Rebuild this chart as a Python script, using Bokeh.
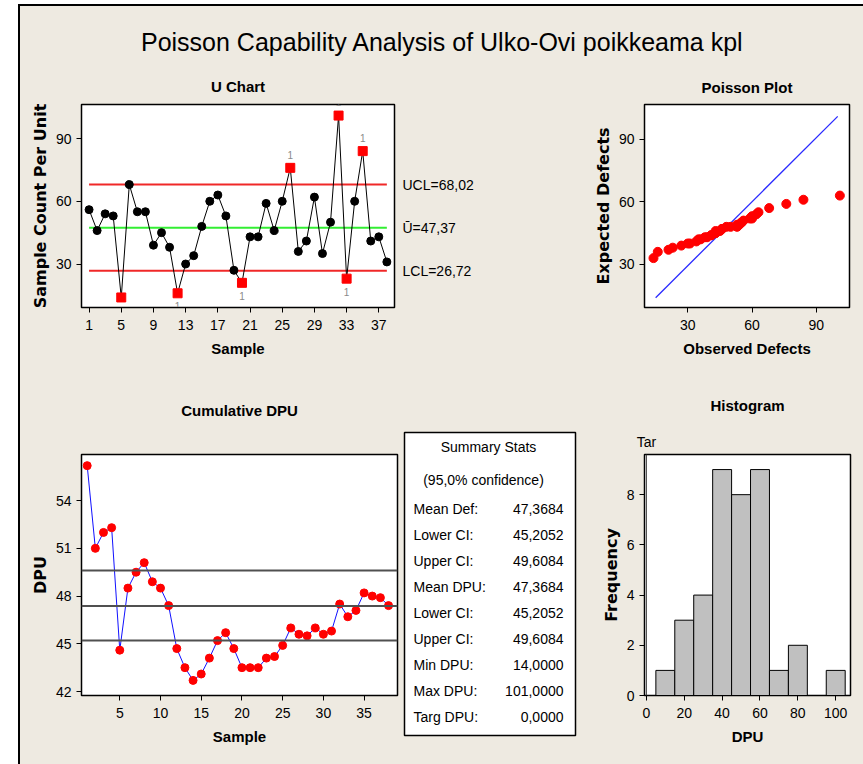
from bokeh.plotting import figure
from bokeh.layouts import row, column
from bokeh.models import Range1d, FixedTicker, Span, Label, Div, Spacer, LinearAxis
from bokeh.embed import file_html
from bokeh.resources import INLINE
from bokeh.core.properties import value

# ---------------- data ----------------
main_title = "Poisson Capability Analysis of Ulko-Ovi poikkeama kpl"

samples = list(range(1, 39))
u_values = [56, 46, 54, 53, 14, 68, 55, 55, 39, 45, 38, 16, 30, 34, 48, 60, 63, 53, 27, 21,
            43, 43, 59, 46, 60, 76, 36, 41, 62, 35, 50, 101, 23, 60, 84, 41, 43, 31]
ucl_value = 68.02
center_value = 47.37
lcl_value = 26.72
control_labels = ["UCL=68,02", "\u016a=47,37", "LCL=26,72"]
u_xticks = [1, 5, 9, 13, 17, 21, 25, 29, 33, 37]
u_yticks = [30, 60, 90]

cum_dpu = [56.2, 51.0, 52.0, 52.3, 44.6, 48.5, 49.5, 50.1, 48.9, 48.5, 47.4, 44.7, 43.5,
           42.7, 43.1, 44.1, 45.2, 45.7, 44.7, 43.5, 43.5, 43.5, 44.1, 44.2, 44.9, 46.0,
           45.6, 45.5, 46.0, 45.6, 45.8, 47.5, 46.7, 47.1, 48.2, 48.0, 47.9, 47.4]
ci_lower = 45.2052
mean_dpu = 47.3684
ci_upper = 49.6084
cum_xticks = [5, 10, 15, 20, 25, 30, 35]
cum_yticks = [42, 45, 48, 51, 54]

poisson_observed = sorted(u_values)
poisson_expected = [33, 36, 37, 38, 39, 40, 40, 41, 42, 42, 43, 43, 44, 44, 45, 45, 46, 46, 47,
                    47, 48, 48, 48, 49, 49, 50, 50, 51, 52, 52, 53, 53, 54, 55, 57, 59, 61, 63]
ref_line_x = [15, 100]
ref_line_y = [14, 101]
pois_ticks = [30, 60, 90]

hist_centers = [10, 20, 30, 40, 50, 60, 70, 80, 90, 100]
hist_counts = [1, 3, 4, 9, 8, 9, 1, 2, 0, 1]
target_dpu = 0
target_label = "Tar"
hist_xticks = [0, 20, 40, 60, 80, 100]
hist_yticks = [0, 2, 4, 6, 8]

stats_title = "Summary Stats"
stats_subtitle = "(95,0% confidence)"
stats_labels = ["Mean Def:", "Lower CI:", "Upper CI:", "Mean DPU:", "Lower CI:",
                "Upper CI:", "Min DPU:", "Max DPU:", "Targ DPU:"]
stats_values = ["47,3684", "45,2052", "49,6084", "47,3684", "45,2052", "49,6084",
                "14,0000", "101,0000", "0,0000"]

# ---------------- style ----------------
BG = "#EEEAE1"
FONT = "Liberation Sans"
VFONT = "DejaVu Sans"


def base_fig(**kw):
    p = figure(output_backend="svg", toolbar_location=None, title=None,
               background_fill_color="white", border_fill_color=BG,
               outline_line_color="black", outline_line_width=1.5, **kw)
    p.xgrid.visible = False
    p.ygrid.visible = False
    return p


def style(p, xticks, yticks, xlabel, ylabel):
    for ax in (p.xaxis, p.yaxis):
        ax.major_tick_out = 5
        ax.major_tick_in = 0
        ax.minor_tick_out = 0
        ax.minor_tick_in = 0
        ax.axis_line_color = "black"
        ax.major_tick_line_color = "black"
        ax.major_label_text_font = FONT
        ax.major_label_text_font_size = "14px"
        ax.major_label_text_color = "black"
        ax.axis_label_text_color = "black"
        ax.axis_label_text_font_style = "bold"
    p.xaxis.major_label_standoff = 7
    p.yaxis.major_label_standoff = 5
    p.xaxis.ticker = FixedTicker(ticks=xticks)
    p.yaxis.ticker = FixedTicker(ticks=yticks)
    p.xaxis.axis_label = xlabel
    p.yaxis.axis_label = ylabel
    p.xaxis.axis_label_text_font = FONT
    p.xaxis.axis_label_text_font_size = "15px"
    p.xaxis.axis_label_standoff = 7
    p.yaxis.axis_label_text_font = VFONT
    p.yaxis.axis_label_text_font_size = "16px"
    p.yaxis.axis_label_standoff = 3


def top_title(p, text, standoff, ticks=None, overrides=None):
    ax = LinearAxis(ticker=FixedTicker(ticks=ticks or []),
                    major_label_overrides=overrides or {},
                    axis_label=text, axis_line_color=None,
                    major_tick_line_color=None, minor_tick_line_color=None,
                    major_tick_out=0, major_tick_in=0, minor_tick_out=0, minor_tick_in=0,
                    major_label_standoff=5, major_label_text_font=FONT,
                    major_label_text_font_size="14px", major_label_text_color="black",
                    axis_label_standoff=standoff, axis_label_text_font=FONT,
                    axis_label_text_font_size="15px", axis_label_text_font_style="bold",
                    axis_label_text_color="black")
    p.add_layout(ax, "above")


# ---- title strip ----
tf = figure(width=843, height=64, x_range=Range1d(0, 843), y_range=Range1d(64, 0),
            min_border_left=0, min_border_right=0, min_border_top=0, min_border_bottom=0,
            x_axis_location=None, y_axis_location=None, output_backend="svg",
            toolbar_location=None, background_fill_color=BG, border_fill_color=BG,
            outline_line_color=None, title=None)
tf.xgrid.visible = False
tf.ygrid.visible = False
tf.add_layout(Label(x=422, y=35, text=main_title, text_align="center",
                    text_baseline="alphabetic", text_font=FONT, text_font_size="25px",
                    text_color="black"))

# ---- U chart ----
u = base_fig(width=540, height=305, x_range=Range1d(0.06, 38.95), y_range=Range1d(9.2, 106.3),
             min_border_left=61, min_border_right=166, min_border_top=34, min_border_bottom=68)
style(u, u_xticks, u_yticks, "Sample", "Sample Count Per Unit")
top_title(u, "U Chart", 10)
ends = [samples[0], samples[-1]]
u.line(ends, [ucl_value, ucl_value], line_color="#F02828", line_width=2)
u.line(ends, [lcl_value, lcl_value], line_color="#F02828", line_width=2)
u.line(ends, [center_value, center_value], line_color="#33EE33", line_width=2)
u.line(samples, u_values, line_color="black", line_width=1)
in_x = [s for s, v in zip(samples, u_values) if lcl_value <= v <= ucl_value]
in_y = [v for v in u_values if lcl_value <= v <= ucl_value]
out_x = [s for s, v in zip(samples, u_values) if not (lcl_value <= v <= ucl_value)]
out_y = [v for v in u_values if not (lcl_value <= v <= ucl_value)]
u.scatter(in_x, in_y, marker="circle", size=8, fill_color="black", line_color="black")
u.scatter(out_x, out_y, marker="square", size=9, fill_color="#FF0000", line_color="#FF0000")
flag_y = [v + 6.3 if v > ucl_value else v - 6.3 for v in out_y]
u.text(x=out_x, y=flag_y, text=["1"] * len(out_x), text_font=value(FONT),
       text_font_size="10px", text_color="#8a8a8a", text_align="center",
       text_baseline="middle")
ctrl_axis = LinearAxis(ticker=FixedTicker(ticks=[ucl_value, center_value, lcl_value]),
                       major_label_overrides={ucl_value: control_labels[0],
                                              center_value: control_labels[1],
                                              lcl_value: control_labels[2]},
                       axis_line_color=None, major_tick_line_color=None,
                       minor_tick_line_color=None, major_tick_out=0, major_tick_in=0,
                       minor_tick_out=0, minor_tick_in=0, major_label_standoff=8,
                       major_label_text_font=FONT, major_label_text_font_size="14px",
                       major_label_text_color="black")
u.add_layout(ctrl_axis, "right")

# ---- Poisson plot ----
pp = base_fig(width=303, height=305, x_range=Range1d(9.8, 105.5), y_range=Range1d(9.3, 106.7),
              min_border_left=84, min_border_right=14, min_border_top=33, min_border_bottom=68)
style(pp, pois_ticks, pois_ticks, "Observed Defects", "Expected Defects")
top_title(pp, "Poisson Plot", 9)
pp.line(ref_line_x, ref_line_y, line_color="#2A2AFF", line_width=1.3)
pp.scatter(poisson_observed, poisson_expected, marker="circle", size=9,
           fill_color="#FF0000", line_color="#FF0000")

# ---- Cumulative DPU ----
cd = base_fig(width=380, height=389, x_range=Range1d(0.3, 39.1), y_range=Range1d(41.75, 56.9),
              min_border_left=61, min_border_right=3, min_border_top=79, min_border_bottom=69)
style(cd, cum_xticks, cum_yticks, "Sample", "DPU")
top_title(cd, "Cumulative DPU", 36)
for lv in (ci_upper, mean_dpu, ci_lower):
    cd.add_layout(Span(location=lv, dimension="width", line_color="#505050", line_width=2))
cd.line(samples, cum_dpu, line_color="#1010FF", line_width=1)
cd.scatter(samples, cum_dpu, marker="circle", size=8, fill_color="#FF0000", line_color="#FF0000")

# ---- Summary stats box ----
st = figure(width=190, height=389, x_range=Range1d(0, 171), y_range=Range1d(303, 0),
            min_border_left=4, min_border_right=15, min_border_top=57, min_border_bottom=29,
            x_axis_location=None, y_axis_location=None, output_backend="svg",
            toolbar_location=None, background_fill_color="white", border_fill_color=BG,
            outline_line_color="black", outline_line_width=1.5, title=None)
st.xgrid.visible = False
st.ygrid.visible = False
st.text(x=[84], y=[14], text=[stats_title], text_font=value(FONT), text_font_size="14px",
        text_align="center", text_baseline="middle", text_color="black")
st.text(x=[79], y=[47], text=[stats_subtitle], text_font=value(FONT), text_font_size="14px",
        text_align="center", text_baseline="middle", text_color="black")
row_y = [76.3 + 26 * i for i in range(len(stats_labels))]
st.text(x=[9] * len(stats_labels), y=row_y, text=stats_labels, text_font=value(FONT),
        text_font_size="14px", text_align="left", text_baseline="middle", text_color="black")
st.text(x=[159] * len(stats_values), y=row_y, text=stats_values, text_font=value(FONT),
        text_font_size="14px", text_align="right", text_baseline="middle", text_color="black")

# ---- Histogram ----
hf = base_fig(width=273, height=389, x_range=Range1d(-1, 107.8), y_range=Range1d(0, 9.6),
              min_border_left=54, min_border_right=13, min_border_top=79, min_border_bottom=69)
style(hf, hist_xticks, hist_yticks, "DPU", "Frequency")
top_title(hf, "Histogram", 17, ticks=[target_dpu], overrides={target_dpu: target_label})
hf.vbar(x=hist_centers, top=hist_counts, width=10, fill_color="#C0C0C0", line_color="black",
        line_width=1)
hf.add_layout(Span(location=target_dpu, dimension="height", line_color="#404040", line_width=1))

bgstyle = {"background-color": BG}
row1 = row(u, pp, styles=bgstyle)
row2 = row(cd, column(st, styles=bgstyle), hf, styles=bgstyle)
body = column(tf, row1, row2, styles=bgstyle)
top_line = Div(width=843, height=2, margin=0, styles={"background-color": "black"})
main = column(Spacer(width=843, height=4), top_line, body)
left_border = column(Spacer(width=2, height=4),
                     Div(width=2, height=760, margin=0, styles={"background-color": "black"}))
root = row(Spacer(width=18, height=764), left_border, main)

open("out.html", "w").write(file_html(root, INLINE))
